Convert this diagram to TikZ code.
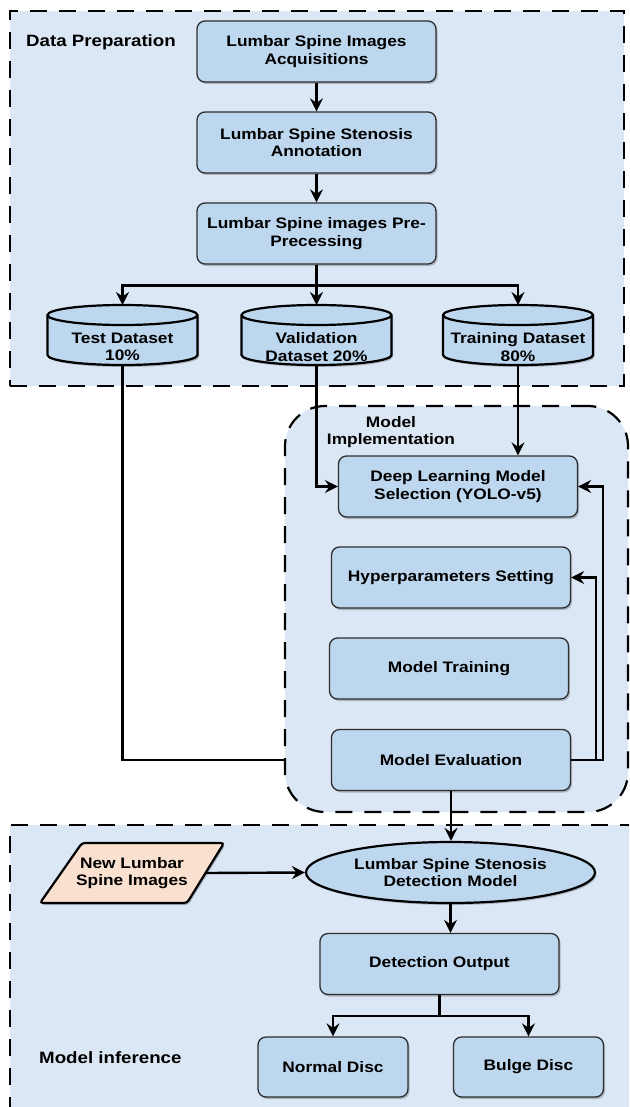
\documentclass[tikz,border=0pt]{standalone}
\usepackage{fontspec}
\setmainfont{Liberation Sans}[FakeStretch=1.14]
\usetikzlibrary{arrows.meta,shapes.geometric,shadows,calc}
\definecolor{panelfill}{HTML}{DBE7F5}
\definecolor{boxfill}{HTML}{BDD7EE}
\definecolor{peach}{HTML}{FAE1CF}
\definecolor{boxedge}{HTML}{2E2E2E}
\begin{document}
\begin{tikzpicture}[x=1pt,y=-1pt,
  font=\fontsize{15.2}{17.6}\selectfont\bfseries,
  softshadow/.style={drop shadow={shadow xshift=1.5pt,shadow yshift=-2pt,opacity=0.22,fill=black}},
  panel/.style={draw=black,fill=panelfill,line width=2.2pt,dash pattern=on 17pt off 12pt,inner sep=0pt,outer sep=0pt},
  proc/.style={draw=boxedge,line width=1.3pt,fill=boxfill,rounded corners=8pt,minimum width=239pt,minimum height=61pt,align=center,inner sep=2pt,softshadow},
  smallproc/.style={proc,minimum width=150pt,minimum height=60pt},
  dbnode/.style={minimum width=150pt,minimum height=60pt,inner sep=0pt,outer sep=0pt},
  dbbody/.style={draw=black,line width=2.2pt,fill=boxfill,softshadow},
  dbrim/.style={draw=black,line width=2.2pt},
  label/.style={align=center,inner sep=0pt},
  bigtitle/.style={label,font=\fontsize{16.4}{19}\selectfont\bfseries},
  link/.style={line width=2.4pt},
  conn/.style={line width=2.4pt,-{Stealth[length=13pt,width=13pt,inset=4.5pt]}}
]
\clip (0,0) rectangle (629,1107);

% containers
\node[panel,minimum width=614pt,minimum height=375pt] (prep) at (317,198.5) {};
\node[panel,rounded corners=40pt,minimum width=343pt,minimum height=406pt] (impl) at (456.5,609) {};
\node[panel,minimum width=630pt,minimum height=295pt] (infer) at (325,972.5) {};

\node[bigtitle,anchor=west] (preptitle) at (26,42) {Data Preparation};
\node[label] (impltitle) at (391,432) {Model\\Implementation};
\node[bigtitle,anchor=west] (infertitle) at (39,1058) {Model inference};

% data preparation steps
\node[proc] (acq) at (316.5,51.5) {Lumbar Spine Images\\Acquisitions};
\node[proc] (ann) at (316.5,142.5) {Lumbar Spine Stenosis\\Annotation};
\node[proc] (pre) at (316.5,233.5) {Lumbar Spine images Pre-\\Precessing};

% datasets (cylinders)
\node[dbnode] (testdb) at (122.5,335) {};
\node[dbnode] (validdb) at (316.5,335) {};
\node[dbnode] (traindb) at (518,335) {};
\foreach \n in {testdb,validdb,traindb}{
  \path[dbbody] ([yshift=-10pt]\n.north west) -- ([yshift=10pt]\n.south west)
     arc[start angle=180,end angle=360,x radius=75pt,y radius=10pt]
     -- ([yshift=-10pt]\n.north east)
     arc[start angle=0,end angle=180,x radius=75pt,y radius=10pt] -- cycle;
  \draw[dbrim] ([yshift=-10pt]\n.north west) arc[start angle=180,end angle=360,x radius=75pt,y radius=10pt];
}
\node[label] (testtxt) at (122.5,347) {Test Dataset\\10\%};
\node[label] (validtxt) at (316.5,347) {Validation\\Dataset 20\%};
\node[label] (traintxt) at (518,347) {Training Dataset\\80\%};

% model implementation steps
\node[proc] (dl) at (458,486.5) {Deep Learning Model\\Selection (YOLO-v5)};
\node[proc] (hyp) at (451,577.5) {Hyperparameters Setting};
\node[proc] (mtrain) at (449,668.5) {Model Training};
\node[proc] (eval) at (451,760) {Model Evaluation};

% inference
\path[draw=black,line width=2.2pt,fill=peach,rounded corners=3pt,softshadow]
  (82,843) -- (224,843) -- (187,903) -- (40,903) -- cycle;
\node[label] (newimg) at (132,873) {New Lumbar\\Spine Images};
\coordinate (newimgE) at (205.5,873);
\node[ellipse,draw=black,line width=2.2pt,fill=boxfill,minimum width=289pt,minimum height=61pt,inner sep=0pt,align=center,softshadow] (detm) at (450.5,872.5) {Lumbar Spine Stenosis\\Detection Model};
\node[proc] (detout) at (439.5,964) {Detection Output};
\node[smallproc] (normal) at (333,1067) {Normal Disc};
\node[smallproc] (bulge) at (528.5,1067) {Bulge Disc};

% connectors
\draw[conn] (acq) -- (ann);
\draw[conn] (ann) -- (pre);
\draw[conn] (pre.south) -- ++(0,21) -| (testdb.north);
\draw[conn] (pre.south) -- ++(0,21) -| (traindb.north);
\draw[conn] (pre.south) -- (validdb.north);

\draw[link] (testdb.south) |- (impl.west |- eval.west);
\draw[conn] (validdb.south) |- (dl.west);
\draw[conn] (traindb.south) -- (traindb.south |- dl.north);

\draw[conn] (eval.east) -- ++(32,0) |- (dl.east);
\draw[conn] (eval.east) -- ++(25,0) |- (hyp.east);
\draw[conn] (eval.south) -- (eval.south |- detm.north);

\draw[conn] (newimgE) -- (detm.west);
\draw[conn] (detm.south) -- (detm.south |- detout.north);
\draw[conn] (detout.south) -- ++(0,21) -| (normal.north);
\draw[conn] (detout.south) -- ++(0,21) -| (bulge.north);
\end{tikzpicture}
\end{document}
